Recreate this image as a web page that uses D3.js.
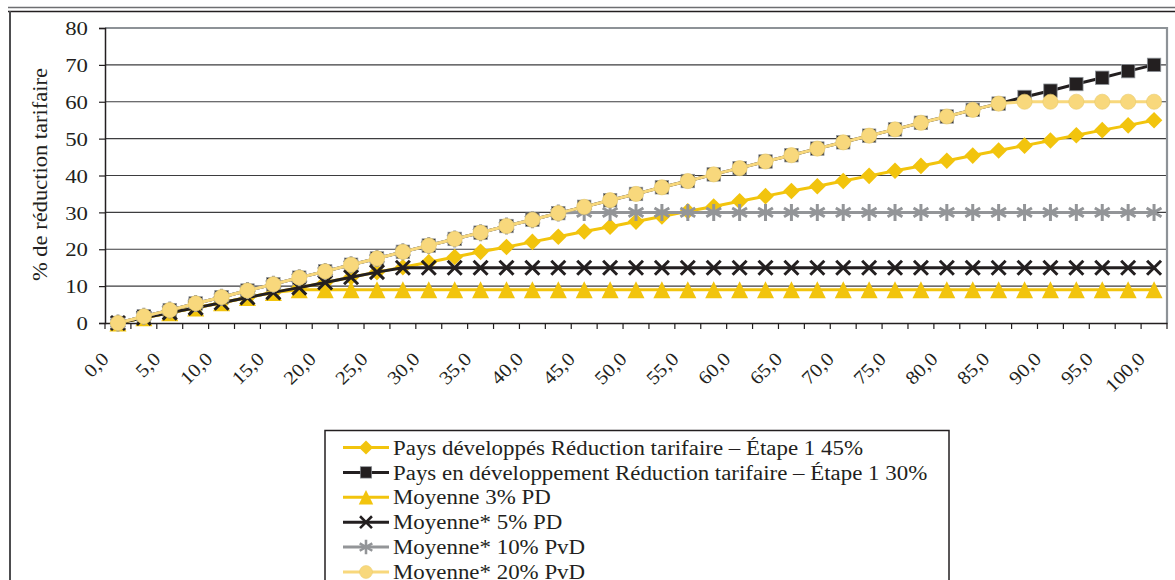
<!DOCTYPE html>
<html><head><meta charset="utf-8">
<script src="https://cdn.jsdelivr.net/npm/d3@7"></script>
<style>
body{margin:0;background:#fff}
svg{display:block}
.sf{font-family:"Liberation Serif","Times New Roman",serif;fill:#231f20}
</style>
</head><body><svg id="c" width="1175" height="580"></svg>
<script>
const categories = ["0,0","2,5","5,0","7,5","10,0","12,5","15,0","17,5","20,0","22,5","25,0","27,5","30,0","32,5","35,0","37,5","40,0","42,5","45,0","47,5","50,0","52,5","55,0","57,5","60,0","62,5","65,0","67,5","70,0","72,5","75,0","77,5","80,0","82,5","85,0","87,5","90,0","92,5","95,0","97,5","100,0"];
const shownLabels = ["0,0","5,0","10,0","15,0","20,0","25,0","30,0","35,0","40,0","45,0","50,0","55,0","60,0","65,0","70,0","75,0","80,0","85,0","90,0","95,0","100,0"];
const yTicks = [0,10,20,30,40,50,60,70,80];
const seriesNames = ["Pays développés Réduction tarifaire – Étape 1 45%","Pays en développement Réduction tarifaire – Étape 1 30%","Moyenne 3% PD","Moyenne* 5% PD","Moyenne* 10% PvD","Moyenne* 20% PvD"];
const pdEtape1 = [0,1.4,2.8,4.1,5.5,6.9,8.3,9.6,11,12.4,13.8,15.1,16.5,17.9,19.3,20.6,22,23.4,24.8,26.1,27.5,28.9,30.3,31.6,33,34.4,35.8,37.1,38.5,39.9,41.3,42.6,44,45.4,46.8,48.1,49.5,50.9,52.3,53.6,55];
const pvdEtape1 = [0,1.8,3.5,5.3,7,8.8,10.5,12.3,14,15.8,17.5,19.3,21,22.8,24.5,26.3,28,29.8,31.5,33.3,35,36.8,38.5,40.3,42,43.8,45.5,47.3,49,50.8,52.5,54.3,56,57.8,59.5,61.3,63,64.8,66.5,68.3,70];
const moy3PD = [0,1.4,2.8,4.1,5.5,6.9,8.3,9,9,9,9,9,9,9,9,9,9,9,9,9,9,9,9,9,9,9,9,9,9,9,9,9,9,9,9,9,9,9,9,9,9];
const moy5PD = [0,1.4,2.8,4.1,5.5,6.9,8.3,9.6,11,12.4,13.8,15,15,15,15,15,15,15,15,15,15,15,15,15,15,15,15,15,15,15,15,15,15,15,15,15,15,15,15,15,15];
const moy10PvD = [0,1.8,3.5,5.3,7,8.8,10.5,12.3,14,15.8,17.5,19.3,21,22.8,24.5,26.3,28,29.8,30,30,30,30,30,30,30,30,30,30,30,30,30,30,30,30,30,30,30,30,30,30,30];
const moy20PvD = [0,1.8,3.5,5.3,7,8.8,10.5,12.3,14,15.8,17.5,19.3,21,22.8,24.5,26.3,28,29.8,31.5,33.3,35,36.8,38.5,40.3,42,43.8,45.5,47.3,49,50.8,52.5,54.3,56,57.8,59.5,60,60,60,60,60,60];

const svg = d3.select("#c");
const L = 105, R = 1167, T = 28, B = 323;
const x = d3.scaleBand().domain(categories).range([L, R]).padding(0);
const y = d3.scaleLinear().domain([0, 80]).range([B, T]);
const SX = 1.2; // horizontal stretch of the printed figure's text
function stretch(t, k) {
  const len = t.node().getComputedTextLength();
  t.attr("textLength", len * k).attr("lengthAdjust", "spacingAndGlyphs");
}

// outer frame
svg.append("line").attr("x1",8).attr("x2",1175).attr("y1",7.5).attr("y2",7.5).attr("stroke","#6d6e71").attr("stroke-width",1.3);
svg.append("line").attr("x1",8).attr("x2",1175).attr("y1",11.5).attr("y2",11.5).attr("stroke","#231f20").attr("stroke-width",1.3);
svg.append("line").attr("x1",10).attr("x2",10).attr("y1",11).attr("y2",580).attr("stroke","#4d4d4f").attr("stroke-width",2);

// gridlines
svg.append("g").selectAll("line").data(yTicks.filter(d => d > 0 && d < 80)).join("line")
  .attr("x1", L).attr("x2", R).attr("y1", d => y(d)).attr("y2", d => y(d))
  .attr("stroke", "#3d3d3f").attr("stroke-width", 1.2);
svg.append("path").attr("d", `M${L},${y(80)}H${R}V${B}`).attr("fill","none").attr("stroke","#8d9297").attr("stroke-width",2.2);

// y axis
const ya = svg.append("g").attr("transform", `translate(${L},0)`)
  .call(d3.axisLeft(y).tickValues(yTicks).tickSize(6).tickPadding(0).tickFormat(d3.format("d")));
ya.select(".domain").attr("stroke", "#231f20").attr("stroke-width", 1.5);
ya.selectAll(".tick line").attr("stroke", "#231f20").attr("stroke-width", 1.2);
ya.selectAll(".tick text").attr("class","sf").attr("font-size", 19)
  .attr("x", 0).attr("dy", "0.35em").attr("transform", `translate(-17,0) scale(${SX},1)`);

// x axis
const xa = svg.append("g").attr("transform", `translate(0,${B})`)
  .call(d3.axisBottom(x).tickValues([]).tickSizeOuter(0));
xa.select(".domain").attr("stroke", "#231f20").attr("stroke-width", 1.5);
xa.selectAll(".bt").data(categories.concat(["end"])).join("line").attr("class","bt")
  .attr("x1", (d,i) => L + i * x.bandwidth()).attr("x2", (d,i) => L + i * x.bandwidth())
  .attr("y1", 0).attr("y2", 6).attr("stroke", "#231f20").attr("stroke-width", 1.2);
svg.selectAll(".xl").data(shownLabels).join("text").attr("class","sf xl")
  .attr("font-size", 19).attr("text-anchor", "end")
  .attr("transform", d => `translate(${x(d) + x.bandwidth()/2 - 8},${B + 37}) rotate(-45)`)
  .text(d => d)
  .each(function(){ stretch(d3.select(this), 1.1); });

// axis title
svg.append("text").attr("class","sf").attr("font-size", 20).attr("text-anchor", "middle")
  .attr("textLength", 213).attr("lengthAdjust", "spacingAndGlyphs")
  .attr("transform", `translate(47,${(T+B)/2 - 1}) rotate(-90)`).text("% de réduction tarifaire");

// markers
const Y1 = "#f2c40d", BK = "#231f20", GR = "#939598", LY = "#f8d87c";
function marker(g, type, color) {
  if (type === "diamond") g.append("path").attr("d","M0,-8.3L8.3,0L0,8.3L-8.3,0Z").attr("fill",color);
  else if (type === "square") g.append("rect").attr("x",-6.7).attr("y",-6.7).attr("width",13.4).attr("height",13.4).attr("fill",color).attr("stroke","#8d9297").attr("stroke-width",0.8);
  else if (type === "triangle") g.append("path").attr("d","M0,-8.5L8.5,8.5L-8.5,8.5Z").attr("fill",color);
  else if (type === "x") g.append("path").attr("d","M-7,-7L7,7M-7,7L7,-7").attr("stroke",color).attr("stroke-width",3).attr("fill","none");
  else if (type === "star") g.append("path").attr("d","M0,-8.5V8.5M-7.4,-4.3L7.4,4.3M-7.4,4.3L7.4,-4.3").attr("stroke",color).attr("stroke-width",3).attr("fill","none");
  else if (type === "circle") g.append("circle").attr("r",7.6).attr("fill",color).attr("stroke","#e8c96a").attr("stroke-width",0.6);
}
const series = [
  {name: seriesNames[0], values: pdEtape1, color: Y1, marker: "diamond", lw: 3},
  {name: seriesNames[1], values: pvdEtape1, color: BK, marker: "square", lw: 3},
  {name: seriesNames[2], values: moy3PD, color: Y1, marker: "triangle", lw: 3},
  {name: seriesNames[3], values: moy5PD, color: BK, marker: "x", lw: 3},
  {name: seriesNames[4], values: moy10PvD, color: GR, marker: "star", lw: 3},
  {name: seriesNames[5], values: moy20PvD, color: LY, marker: "circle", lw: 3}
];
const line = d3.line().x((d,i) => x(categories[i]) + x.bandwidth()/2).y(d => y(d));
series.forEach(s => {
  const g = svg.append("g");
  g.append("path").attr("d", line(s.values)).attr("fill","none").attr("stroke", s.color).attr("stroke-width", s.lw).attr("stroke-linejoin","round");
  s.values.forEach((v,i) => {
    const m = g.append("g").attr("transform", `translate(${x(categories[i]) + x.bandwidth()/2},${y(v)})`);
    marker(m, s.marker, s.color);
  });
});

// legend
const lg = svg.append("g");
lg.append("rect").attr("x",325).attr("y",430.5).attr("width",624).attr("height",200).attr("fill","#fff").attr("stroke","#231f20").attr("stroke-width",1.5);
const legendTexts = [];
series.forEach((s,i) => {
  const cy = 447.5 + i * 24.9;
  const g = lg.append("g").attr("transform", `translate(0,${cy})`);
  g.append("line").attr("x1",343).attr("x2",389).attr("y1",0).attr("y2",0).attr("stroke",s.color).attr("stroke-width",3);
  const m = g.append("g").attr("transform","translate(366,0) scale(0.85)");
  marker(m, s.marker, s.color);
  legendTexts.push(g.append("text").attr("class","sf").attr("font-size",20.5).attr("x",393).attr("dy","0.35em").text(s.name));
});
// fit the printed stretch of the legend text to the first entry's width (393 → 863)
const lsx = 470 / legendTexts[0].node().getComputedTextLength();
legendTexts.forEach(t => stretch(t, lsx));
</script>
</body></html>
